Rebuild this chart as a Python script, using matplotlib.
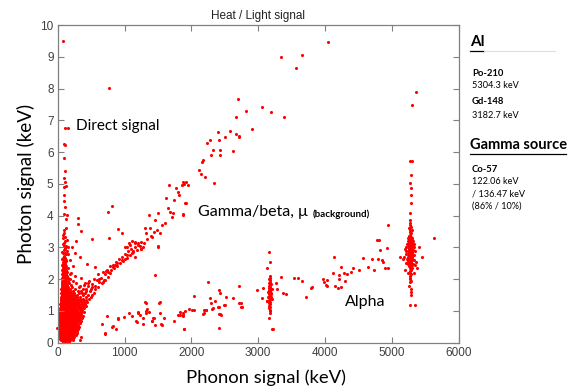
import numpy as np
import matplotlib.pyplot as plt
from matplotlib.lines import Line2D

# ---- data (keV) ----
# dense blob near the origin: rows of (y, [x ...])
blob_rows = [
    (0.02, [72, 98, 121, 147, 176]),
    (0.07, [48, 83, 109, 133, 162, 191, 228, 330]),
    (0.13, [36, 61, 92, 118, 141, 170, 203, 236]),
    (0.19, [27, 55, 79, 104, 128, 157, 186, 214, 251, 355]),
    (0.25, [18, 44, 70, 96, 122, 149, 173, 199, 231, 268]),
    (0.31, [22, 51, 77, 101, 134, 160, 188, 217, 246, 283]),
    (0.37, [14, 39, 66, 90, 117, 143, 171, 195, 224, 258, 296]),
    (0.43, [25, 53, 81, 108, 129, 156, 182, 209, 238, 270, 308]),
    (0.49, [12, 41, 68, 95, 121, 148, 176, 201, 229, 255, 291, 322]),
    (0.55, [27, 55, 83, 110, 137, 163, 190, 218, 244, 273, 300]),
    (0.61, [16, 44, 71, 99, 125, 152, 179, 206, 232, 261, 288, 327]),
    (0.67, [31, 59, 86, 113, 140, 168, 194, 221, 249, 278, 312, 345]),
    (0.73, [19, 47, 74, 102, 129, 156, 183, 210, 238, 266, 295, 331]),
    (0.79, [35, 62, 90, 117, 144, 171, 198, 226, 253, 283, 317, 360]),
    (0.85, [22, 50, 77, 105, 132, 159, 186, 214, 242, 270, 301, 338, 372]),
    (0.91, [38, 66, 93, 120, 147, 174, 202, 230, 258, 287, 323, 356]),
    (0.97, [25, 53, 81, 108, 135, 163, 190, 218, 246, 275, 309, 343, 388]),
    (1.03, [41, 69, 96, 124, 151, 178, 206, 234, 262, 292, 327, 366]),
    (1.09, [29, 57, 85, 112, 139, 166, 194, 222, 251, 281, 315, 351, 398]),
    (1.15, [45, 73, 100, 127, 155, 182, 210, 238, 267, 299, 336, 377, 421]),
    (1.21, [36, 61, 89, 116, 143, 171, 199, 227, 256, 288, 322, 362, 407]),
    (1.27, [50, 78, 104, 131, 159, 187, 215, 244, 275, 309, 348, 392, 446]),
    (1.33, [42, 68, 94, 121, 148, 176, 205, 236, 268, 301, 341, 385, 430]),
    (1.39, [55, 82, 109, 136, 165, 194, 226, 259, 296, 333, 379, 468]),
    (1.45, [47, 73, 99, 126, 155, 186, 218, 253, 290, 328, 417, 493]),
    (1.51, [58, 86, 114, 143, 176, 211, 247, 285, 372, 455, 520]),
    (1.57, [51, 78, 104, 133, 166, 204, 241, 312, 402, 541]),
    (1.63, [62, 89, 117, 149, 188, 236, 350, 480]),
    (1.69, [55, 81, 108, 139, 177, 262, 422, 565]),
    (1.75, [66, 93, 121, 160, 214, 318, 512]),
    (1.81, [58, 85, 112, 146, 198, 390]),
    (1.87, [69, 96, 124, 171, 275, 450]),
    (1.93, [61, 88, 115, 152, 225]),
    (1.99, [72, 99, 131, 190]),
    (2.05, [64, 91, 118, 160, 345]),
    (2.11, [75, 102, 137]),
    (2.17, [67, 94, 121, 182]),
    (2.23, [78, 105, 140]),
    (2.29, [70, 97, 124]),
    (2.35, [81, 108, 150]),
    (2.41, [73, 100, 128]),
    (2.47, [84, 112]),
    (2.53, [76, 103]),
    (2.59, [88, 118]),
    (2.66, [80, 107]),
    (2.74, [92]),
    (2.83, [84, 115]),
    (2.93, [96]),
    (3.04, [88, 125]),
]

# "direct signal" column and isolated points near x=0
direct_x = [84, 109, 150, 109, 94, 94, 109, 99, 109, 99, 124, 89, 99, 114, 94, 119,
            99, 139, 119, 79, 109, 139, 99, 159, 109, 134, -5, 773,
            60, 95, 120, 65, 100, 125, 70, 105, 75, 110, 80, 100]
direct_y = [9.50, 6.75, 6.75, 6.22, 6.24, 5.82, 5.40, 5.17, 5.07, 4.91, 4.93, 4.65,
            4.46, 4.28, 4.06, 3.88, 3.55, 4.01, 3.60, 3.39, 3.34, 3.23, 3.13, 3.02,
            2.95, 2.88, 0.47, 8.02,
            2.44, 2.50, 2.56, 2.62, 2.70, 2.78, 2.86, 2.98, 3.10, 3.20, 3.30, 3.45]

# gamma/beta band
gamma_x = [309, 309, 344, 509, 274, 750, 809, 764, 908, 959, 434, 559, 259, 334,
           1458, 1034, 1068, 1118, 1158, 1208, 1248, 1273, 1318, 1308, 1383, 1373,
           1417, 1458, 1498, 1507, 1558, 1607, 1622, 1648, 1667, 1682, 1708, 1732,
           1747, 1768, 1798, 1817, 1882, 1897, 1907, 1008, 1083, 1158, 1208, 1507,
           1034, 1108, 1158, 959, 884, 833, 783, 758, 709, 659, 1917, 1882,
           1870, 1922, 1867, 1947, 2341, 2202, 2142, 2121, 2161, 2181, 2296, 2431,
           2331, 2431, 2620, 2236, 2277, 2410, 2506, 2715, 2715, 2670, 2406, 2580,
           2915, 2675, 3390, 2696, 3056, 2820, 3200, 3560, 3660, 3350, 4050,
           600, 680, 620, 720, 860, 1010, 1130, 1250,
           310, 335, 360, 385, 410, 430, 455, 470, 495, 515, 540, 560, 585, 605,
           625, 650, 672, 690, 715, 735, 760, 780, 800, 825, 845, 870, 890, 915,
           935, 960, 985, 1005, 1030, 1055, 1080, 1100, 1130, 1160, 1190, 1225,
           1250, 1290, 1340, 1390, 1440, 1490, 1530,
           200, 230, 180, 260, 150, 210]
gamma_y = [3.92, 3.74, 3.51, 3.25, 3.21, 4.12, 4.31, 3.29, 3.59, 3.44, 2.47, 2.39,
           2.83, 2.71, 2.13, 3.02, 3.13, 3.21, 3.13, 3.08, 3.18, 3.02, 3.44, 3.60,
           3.60, 4.02, 3.34, 3.86, 3.02, 4.07, 3.70, 3.76, 4.55, 4.23, 4.96, 4.12,
           3.97, 4.07, 4.49, 4.86, 4.75, 4.65, 4.02, 5.00, 4.39, 3.02, 3.08, 3.18,
           3.13, 3.04, 2.76, 2.81, 2.71, 2.60, 2.50, 2.39, 2.18, 2.08, 1.97, 1.87,
           4.39, 4.04, 5.07, 5.07, 4.96, 4.96, 5.02, 5.23, 5.31, 5.43, 5.69, 5.75,
           5.91, 5.92, 6.06, 6.06, 6.04, 6.29, 6.37, 6.39, 6.48, 6.51, 6.48, 6.58,
           6.62, 6.67, 6.73, 7.11, 7.10, 7.68, 7.43, 7.29, 7.27, 8.64, 9.05, 8.99,
           9.46, 1.75, 1.90, 2.02, 2.25, 2.45, 2.62, 2.90, 2.95,
           1.62, 1.80, 1.55, 1.70, 1.88, 1.62, 1.78, 1.95, 1.70, 1.85, 2.02, 1.80,
           1.96, 2.15, 1.90, 2.05, 2.22, 1.98, 2.15, 2.30, 2.22, 2.40, 2.28, 2.46,
           2.35, 2.55, 2.42, 2.62, 2.50, 2.70, 2.58, 2.80, 2.66, 2.88, 2.75, 2.95,
           2.85, 3.00, 2.92, 3.05, 2.95, 3.15, 3.25, 3.35, 3.48, 3.55, 3.45,
           2.20, 2.40, 2.60, 2.10, 2.80, 3.00]

# alpha band (lower branch) and its scattered points
alpha_x = [1308, 1532, 1198, 1323, 1368, 908, 1168, 1273, 1408, 1447, 659, 818,
           869, 709, 1273, 1543, 1807, 1882, 743, 713, 908, 824, 998, 1073, 1108,
           1198, 1233, 1183, 1318, 1333, 1408, 1433, 1532, 1522, 1558, 1592, 1318,
           1747, 1832, 1872, 1897, 1972, 2007, 2046, 2181, 2217, 2292, 2316, 2406,
           2431, 2416, 2491, 2721, 2756, 2251, 2711, 2416, 2436, 2042, 2517, 2631,
           2287, 2356, 2746, 2501, 2751, 2326, 2416, 2192, 2222, 1832, 1907, 1872,
           2192, 2411, 2451, 1892, 2990, 3071, 3056, 3135, 3270, 3350, 3285, 3380,
           3415, 3530, 3590, 3655, 3790, 3810, 3710, 3970, 3980, 4035, 4030, 4020,
           4154, 4194, 4244, 4119, 4218, 4204, 4308, 4143, 4239, 4293, 4329, 4394,
           4428, 4503, 4573, 4638, 4703, 4738, 4788, 4853, 4863, 4893, 4938, 4778,
           4803, 4933, 4828, 4938, 1458, 3230, 3170]
alpha_y = [1.29, 1.27, 0.98, 1.00, 0.98, 0.75, 0.68, 0.77, 0.68, 0.77, 0.58, 0.50,
           0.42, 0.30, 0.58, 0.58, 0.87, 0.87, 0.84, 0.28, 0.79, 0.53, 0.82, 0.94,
           0.84, 0.94, 0.87, 0.66, 0.93, 1.05, 0.68, 0.77, 0.93, 1.24, 0.56, 0.77,
           1.24, 0.69, 0.87, 0.94, 0.42, 1.05, 1.03, 1.03, 0.89, 1.03, 1.24, 1.06,
           1.13, 0.89, 0.45, 1.19, 1.24, 1.13, 1.91, 1.78, 1.66, 1.57, 1.47, 1.43,
           1.41, 1.40, 1.32, 1.26, 1.18, 1.12, 1.09, 1.12, 1.04, 1.02, 0.98, 1.00,
           0.84, 0.93, 0.89, 0.88, 0.43, 1.66, 1.73, 1.40, 1.32, 1.89, 2.08, 1.70,
           1.55, 1.53, 2.05, 2.03, 1.93, 1.71, 1.74, 1.43, 2.00, 1.91, 1.97, 1.78,
           1.81, 1.78, 1.73, 1.76, 2.20, 2.13, 2.01, 1.94, 2.71, 2.39, 2.20, 2.16,
           2.23, 2.35, 2.29, 2.66, 2.39, 2.62, 2.28, 2.62, 2.60, 2.53, 2.36, 2.36,
           3.22, 3.22, 2.98, 2.93, 3.72, 0.55, 0.42, 0.77]

# Gd-148 line (3182.7 keV)
gd_x = [3172, 3180, 3168, 3185, 3175, 3165, 3190, 3172, 3160, 3182, 3170, 3192,
        3165, 3178, 3186, 3170, 3158, 3180, 3174, 3190, 3166, 3178, 3170, 3184,
        3162, 3176, 3170, 3185, 3168, 3178, 3172, 3182, 3150, 3200, 3145, 3205,
        3140, 3210, 3165, 3180, 3140, 3215]
gd_y = [2.10, 2.05, 2.00, 1.96, 1.92, 1.88, 1.85, 1.81, 1.78, 1.75, 1.71, 1.68,
        1.65, 1.62, 1.58, 1.55, 1.52, 1.49, 1.46, 1.43, 1.40, 1.36, 1.32, 1.28,
        1.25, 1.21, 1.17, 1.13, 1.09, 1.04, 1.00, 0.92, 1.60, 1.52, 1.45, 1.70,
        1.30, 1.38, 2.85, 2.54, 2.34, 0.44]

# Po-210 line (5304.3 keV)
po_x = [5280, 5272, 5285, 5276, 5268, 5290, 5278, 5262, 5295,
        5248, 5276, 5303, 5255, 5281, 5310, 5244, 5270, 5298, 5252, 5284, 5312,
        5241, 5273, 5301, 5258, 5279, 5306, 5246, 5268, 5296, 5254, 5287, 5315,
        5243, 5275, 5302, 5257, 5282, 5309, 5249, 5271, 5297, 5253, 5286, 5311,
        5240, 5274, 5300, 5259, 5280, 5305, 5247, 5269, 5294, 5256, 5283, 5313,
        5245, 5277, 5299, 5262, 5288,
        5275, 5282, 5270, 5279, 5286, 5272, 5280, 5276, 5283, 5274,
        5277, 5292, 5292, 5285, 5277, 5277, 5282, 5277, 5342, 5367, 5297, 5267,
        5297, 5288, 5627, 5457, 5402, 5377, 5127, 5162, 5177, 5217, 5350, 5330,
        5210, 5360, 5230, 5340, 5200,
        5220, 5330, 5215, 5335, 5225, 5340, 5320, 5230, 5200, 5350, 5310, 5240,
        5290, 5265, 5282, 5300, 5255]
po_y = [3.77, 3.70, 3.63, 3.56, 3.50, 3.45, 3.40, 3.36, 3.33,
        3.30, 3.29, 3.28, 3.25, 3.24, 3.22, 3.20, 3.19, 3.17, 3.15, 3.14, 3.12,
        3.10, 3.09, 3.07, 3.05, 3.03, 3.02, 3.00, 2.98, 2.97, 2.95, 2.93, 2.92,
        2.90, 2.88, 2.86, 2.85, 2.83, 2.81, 2.79, 2.78, 2.76, 2.74, 2.72, 2.71,
        2.69, 2.67, 2.66, 2.64, 2.62, 2.60, 2.58, 2.56, 2.55, 2.53, 2.51, 2.49,
        2.47, 2.45, 2.43, 2.41, 2.39,
        2.35, 2.30, 2.25, 2.20, 2.15, 2.10, 2.05, 2.00, 1.95, 1.90,
        5.04, 4.86, 4.65, 4.39, 4.07, 3.86, 1.50, 1.18, 1.18, 7.90, 7.48, 5.73,
        5.71, 5.29, 3.30, 2.69, 3.02, 2.34, 2.69, 2.62, 2.71, 2.50, 2.90, 3.10,
        2.90, 2.55, 3.10, 2.20, 2.30,
        2.80, 2.60, 3.00, 3.00, 2.50, 2.75, 3.20, 2.65, 2.95, 2.45, 2.35, 2.20,
        1.70, 1.80, 1.60, 3.55, 3.60]

x_ticks = [0, 1000, 2000, 3000, 4000, 5000, 6000]
y_ticks = list(range(11))

# ---- figure ----
W, H = 572, 392
fig = plt.figure(figsize=(W / 100, H / 100), dpi=100)
ax = fig.add_axes([57.7 / W, 1 - 342.7 / H, (458.5 - 57.7) / W, (342.7 - 25) / H])

bx = [x for y, xs in blob_rows for x in xs]
by = [y for y, xs in blob_rows for x in xs]
for xs, ys in [(bx, by), (direct_x, direct_y), (gamma_x, gamma_y),
               (alpha_x, alpha_y), (gd_x, gd_y), (po_x, po_y)]:
    ax.scatter(xs, ys, s=5, c='#ff0000', linewidths=0, clip_on=False)

ax.set_xlim(0, 6000)
ax.set_ylim(0, 10)
ax.set_xticks(x_ticks)
ax.set_yticks(y_ticks)
tick_font = dict(family='Liberation Sans', size=8.5)
ax.set_xticklabels([str(t) for t in x_ticks], **tick_font)
ax.set_yticklabels([str(t) for t in y_ticks], **tick_font)
ax.tick_params(direction='in', top=True, right=True, length=4, width=0.8,
               color='#808080', labelcolor='#404040', pad=3)
for sp in ax.spines.values():
    sp.set_color('#808080')
    sp.set_linewidth(0.9)

ax.set_title('Heat / Light signal', family='Liberation Sans', size=8.5,
             color='#222222', pad=4)
ax.set_xlabel('Phonon signal (keV)', family='Lato', size=13.3)
ax.xaxis.set_label_coords(0.52, -0.085)
ax.set_ylabel('Photon signal (keV)', family='Lato', size=13.6, labelpad=4)

# annotations inside the plot
ax.text(274, 6.82, 'Direct signal', family='Lato', size=11, va='center')
ax.text(2102, 4.11, 'Gamma/beta, \u03bc', family='Lato', size=11.5, va='center')
ax.text(3810, 4.03, '(background)', family='Lato', size=7, weight='bold',
        va='center')
ax.text(4304, 1.28, 'Alpha', family='Lato', size=11.5, va='center')

# side panel
def ft(px, py, s, **kw):
    fig.text(px / W, 1 - py / H, s, family='Lato', va='center', **kw)

def uline(x0, x1, py, **kw):
    fig.add_artist(Line2D([x0 / W, x1 / W], [1 - py / H, 1 - py / H], **kw))

ft(470, 42, 'Al', size=11, weight='bold')
uline(470, 484, 51, color='black', lw=0.9)
uline(484, 555, 51, color='#dddddd', lw=0.8)
ft(472, 73, 'Po-210', size=6.8, weight='bold')
ft(472, 86, '5304.3 keV', size=6.6)
ft(472, 102, 'Gd-148', size=6.8, weight='bold')
ft(472, 115, '3182.7 keV', size=6.6)
ft(470, 145, 'Gamma source', size=10.5, weight='bold')
uline(470, 566, 154, color='black', lw=0.9)
ft(472, 170, 'Co-57', size=6.8, weight='bold')
ft(472, 182, '122.06 keV', size=6.6)
ft(472, 194, '/ 136.47 keV', size=6.6)
ft(472, 206, '(86% / 10%)', size=6.6)

fig.savefig('out.png', dpi=100)
